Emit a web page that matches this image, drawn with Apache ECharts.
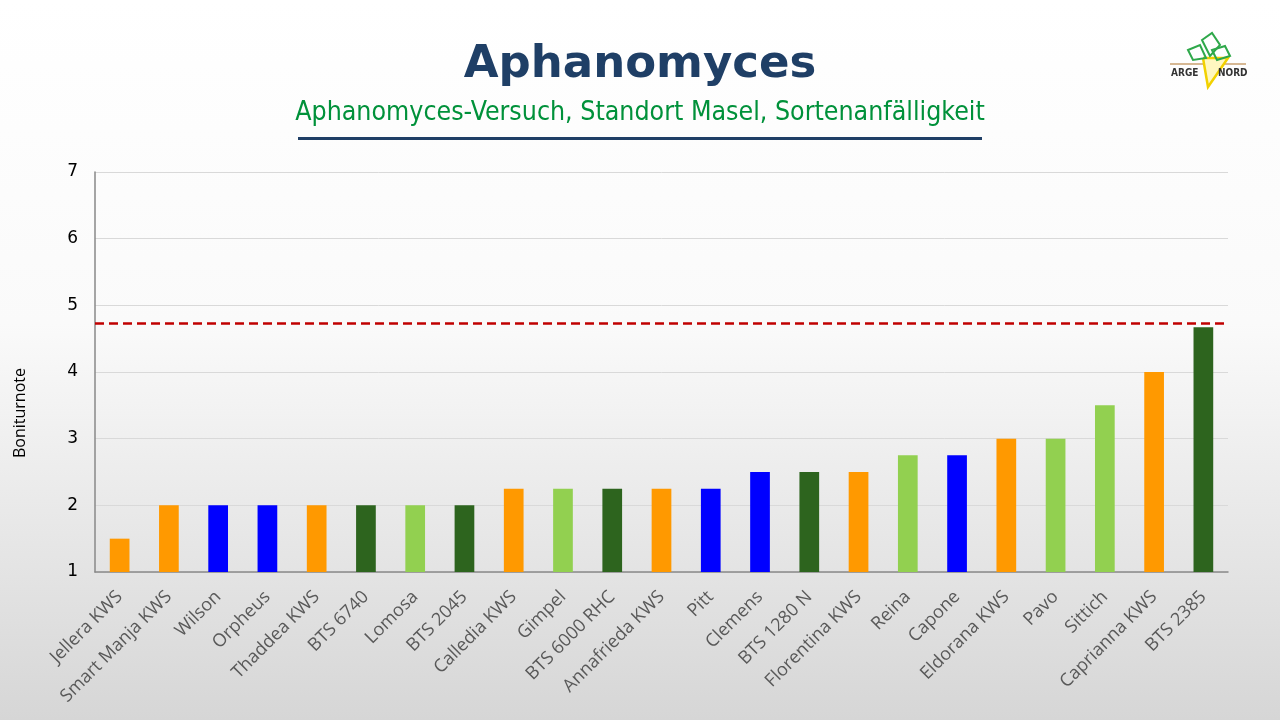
<!DOCTYPE html>
<html>
<head>
<meta charset="utf-8">
<script src="https://cdn.jsdelivr.net/npm/echarts@6/dist/echarts.min.js"></script>
<style>
  html, body { margin: 0; padding: 0; }
  #chart { width: 1280px; height: 720px; }
</style>
</head>
<body>
<div id="chart"></div>
<script>
// Sorten, Boniturnote und Zuechter-Gruppe (bestimmt die Balkenfarbe)
const sorten = ['Jellera KWS', 'Smart Manja KWS', 'Wilson', 'Orpheus', 'Thaddea KWS', 'BTS 6740', 'Lomosa', 'BTS 2045',
  'Calledia KWS', 'Gimpel', 'BTS 6000 RHC', 'Annafrieda KWS', 'Pitt', 'Clemens', 'BTS 1280 N', 'Florentina KWS',
  'Reina', 'Capone', 'Eldorana KWS', 'Pavo', 'Sittich', 'Caprianna KWS', 'BTS 2385']
const noten = [1.5, 2, 2, 2, 2, 2, 2, 2, 2.25, 2.25, 2.25, 2.25, 2.25, 2.5, 2.5, 2.5, 2.75, 2.75, 3, 3, 3.5, 4, 4.67]
const gruppen = ['kws', 'kws', 'grpA', 'grpA', 'kws', 'bts', 'grpB', 'bts', 'kws', 'grpB', 'bts', 'kws', 'grpA', 'grpA',
  'bts', 'kws', 'grpB', 'grpA', 'kws', 'grpB', 'grpB', 'kws', 'bts']
const grenzwert = 4.73
const yTicks = [1, 2, 3, 4, 5, 6, 7]

const farben = { kws: '#FF9900', grpA: '#0000FF', grpB: '#92D050', bts: '#2D641E' }

let chart = echarts.init(document.getElementById('chart'))
let option = {
    backgroundColor: new echarts.graphic.LinearGradient(0, 0, 0, 1, [
        { offset: 0, color: '#ffffff' },
        { offset: 0.45, color: '#fafafa' },
        { offset: 1, color: '#d6d6d6' }
    ]),
    title: [{
        text: 'Aphanomyces',
        left: 'center',
        top: 38,
        textStyle: { fontFamily: 'DejaVu Sans', fontWeight: 'bold', fontSize: 45, color: '#1F3F66' }
    }, {
        text: 'Aphanomyces-Versuch, Standort Masel, Sortenanfälligkeit',
        left: 'center',
        top: 95,
        textStyle: { fontFamily: 'DejaVu Sans Condensed', fontWeight: 'normal', fontSize: 26.5, color: '#00913A' }
    }],
    grid: { left: 95, right: 52, top: 172, bottom: 148 },
    xAxis: {
        type: 'category',
        data: sorten,
        axisLine: { lineStyle: { color: '#898989', width: 1.5 } },
        axisTick: { show: false },
        axisLabel: {
            rotate: 45, interval: 0, margin: 22,
            fontFamily: 'Open Sans', fontSize: 18, color: '#595959'
        }
    },
    yAxis: {
        type: 'value',
        min: yTicks[0],
        max: yTicks[yTicks.length - 1],
        interval: 1,
        axisLine: { show: true, lineStyle: { color: '#898989', width: 1.5 } },
        splitLine: { lineStyle: { color: '#D9D9D9', width: 1 } },
        axisLabel: { margin: 17, fontFamily: 'DejaVu Sans', fontSize: 17, color: '#000000' }
    },
    series: [{
        type: 'bar',
        barWidth: '40%',
        data: noten.map((v, i) => ({ value: v, itemStyle: { color: farben[gruppen[i]] } })),
        markLine: {
            silent: true,
            symbol: 'none',
            label: { show: false },
            lineStyle: { color: '#C00000', type: [9, 5], width: 2.5 },
            data: [{ yAxis: grenzwert }]
        }
    }],
    graphic: [
        // Unterstrich unter dem Titel
        { type: 'rect', shape: { x: 298, y: 137, width: 684, height: 3 }, style: { fill: '#1F3F66' } },
        // Achsentitel
        {
            type: 'text', x: 20, y: 413, rotation: Math.PI / 2,
            style: { text: 'Boniturnote', fontFamily: 'Open Sans', fontSize: 16, fill: '#000', align: 'center', verticalAlign: 'middle' }
        },
        // Logo ARGE NORD (vereinfacht)
        { type: 'line', shape: { x1: 1170, y1: 64, x2: 1246, y2: 64 }, style: { stroke: '#C8A070', lineWidth: 1.5 } },
        { type: 'polyline', shape: { points: [[1203, 58], [1228, 58], [1208, 87], [1203, 58]] }, style: { stroke: '#F2D100', fill: '#FFF7C0', lineWidth: 2.5 } },
        { type: 'polygon', shape: { points: [[1188, 50], [1200, 45], [1206, 58], [1193, 60]] }, style: { stroke: '#2EA84A', fill: 'none', lineWidth: 2 } },
        { type: 'polygon', shape: { points: [[1202, 40], [1212, 33], [1220, 45], [1210, 56]] }, style: { stroke: '#2EA84A', fill: 'none', lineWidth: 2 } },
        { type: 'polygon', shape: { points: [[1212, 50], [1225, 46], [1230, 56], [1217, 60]] }, style: { stroke: '#2EA84A', fill: 'none', lineWidth: 2 } },
        { type: 'text', x: 1171, y: 73, style: { text: 'ARGE', fontFamily: 'DejaVu Sans Condensed', fontWeight: 'bold', fontSize: 10, fill: '#333', verticalAlign: 'middle' } },
        { type: 'text', x: 1218, y: 73, style: { text: 'NORD', fontFamily: 'DejaVu Sans Condensed', fontWeight: 'bold', fontSize: 10, fill: '#333', verticalAlign: 'middle' } }
    ]
}
chart.setOption(option)
</script>
</body>
</html>
